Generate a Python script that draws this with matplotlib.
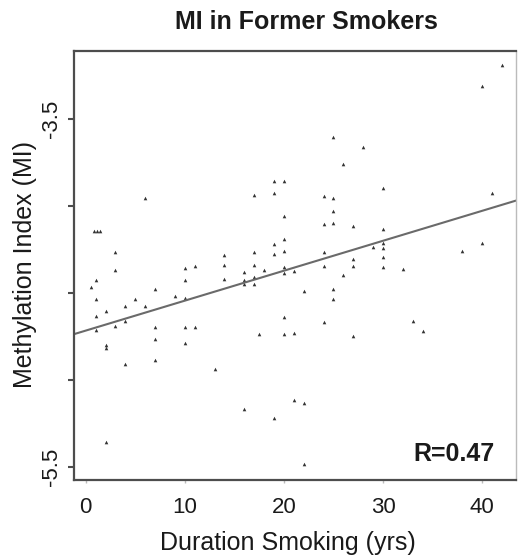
import matplotlib
matplotlib.use("Agg")
import matplotlib.pyplot as plt
import numpy as np

plt.rcParams['font.family'] = ['Liberation Sans', 'DejaVu Sans']

# Duration smoking (yrs) and methylation index values
duration = [6, 0.8, 1.1, 1.4, 3, 14, 17, 17, 19, 20, 19, 20, 19, 20, 19, 20,
            42, 40, 25, 28, 26, 30, 24, 25, 41, 25, 24, 25, 27, 30, 30, 29, 30,
            40, 38, 24, 27, 30, 0.5, 1, 3, 1, 1, 1, 2, 2, 2, 3, 4, 4, 4, 5, 6,
            7, 7, 7, 7, 2, 9, 10, 10, 10, 10, 10, 11, 11, 13, 14, 14, 16, 16,
            16, 17, 17, 17, 18, 20, 20, 21, 20, 17.5, 20, 21, 16, 19, 21, 24,
            27, 30, 32, 26, 22, 25, 25, 24, 27, 33, 34, 22, 22]
mi = [-3.956, -4.142, -4.142, -4.142, -4.266, -4.282, -3.937, -4.266, -3.858,
      -3.858, -3.923, -4.057, -4.218, -4.191, -4.276, -4.260,
      -3.190, -3.309, -3.603, -3.661, -3.757, -3.895, -3.941, -3.954, -3.925,
      -4.029, -4.103, -4.099, -4.117, -4.132, -4.211, -4.237, -4.241,
      -4.209, -4.255, -4.266, -4.301, -4.293, -4.462, -4.427, -4.364, -4.536,
      -4.632, -4.713, -4.603, -4.797, -4.812, -4.690, -4.575, -4.659, -4.908,
      -4.531, -4.575, -4.477, -4.694, -4.766, -4.881, -5.352, -4.519, -4.358,
      -4.427, -4.527, -4.695, -4.787, -4.343, -4.694, -4.933, -4.339, -4.418,
      -4.379, -4.425, -4.450, -4.337, -4.406, -4.447, -4.368, -4.349, -4.383,
      -4.372, -4.636, -4.737, -4.737, -4.730, -5.165, -5.218, -5.111, -4.343,
      -4.345, -4.349, -4.360, -4.397, -4.485, -4.477, -4.531, -4.663, -4.745,
      -4.657, -4.718, -5.132, -5.483]

# Fitted regression line
fit_intercept = -4.715
fit_slope = 0.0172
r_text = "R=0.47"

x_ticks = [0, 10, 20, 30, 40]
y_ticks = [-3.5, -4.0, -4.5, -5.0, -5.5]
y_ticklabels = ["-3.5", "", "", "", "-5.5"]

W, H = 518, 555
fig = plt.figure(figsize=(W / 100, H / 100), dpi=100)
ax = fig.add_axes([74 / W, 1 - 480 / H, (516 - 74) / W, (480 - 51) / H])

ax.plot(duration, mi, linestyle='none', marker='^', markersize=2.6,
        color='#333333', markeredgewidth=0)

xlim = (-1.18, 43.42)
xs = np.array(xlim)
ax.plot(xs, fit_intercept + fit_slope * xs, color='#6a6a6a', linewidth=1.5)

ax.set_xlim(*xlim)
ax.set_ylim(-5.573, -3.109)

ax.set_xticks(x_ticks)
ax.set_xticklabels([str(t) for t in x_ticks])
ax.set_yticks(y_ticks)
ax.set_yticklabels(y_ticklabels, rotation=90, va='center')

ax.tick_params(axis='x', length=2, width=1, color='#bbbbbb', pad=10,
               labelsize=16, labelcolor='#1a1a1a')
ax.tick_params(axis='y', length=4.5, width=1.5, color='#4d4d4d', pad=4,
               labelsize=16, labelcolor='#1a1a1a')

for s in ['left', 'bottom', 'top']:
    ax.spines[s].set_color('#4d4d4d')
    ax.spines[s].set_linewidth(1.6)
ax.spines['right'].set_color('#bbbbbb')
ax.spines['right'].set_linewidth(1.0)

fig.text(25 / W, 1 - 265 / H, "Methylation Index (MI)", rotation=90,
         ha='center', va='center', fontsize=18, color='#1a1a1a')
fig.text(287.5 / W, 1 - 550 / H, "Duration Smoking (yrs)", ha='center',
         va='baseline', fontsize=18, color='#1a1a1a')
fig.text(306 / W, 1 - 28.7 / H, "MI in Former Smokers", ha='center',
         va='baseline', fontsize=18, fontweight='bold', color='#1a1a1a')
fig.text(495 / W, 1 - 461 / H, r_text, ha='right', va='baseline',
         fontsize=18, fontweight='bold', color='#1a1a1a')

fig.savefig("out.png", dpi=100)
